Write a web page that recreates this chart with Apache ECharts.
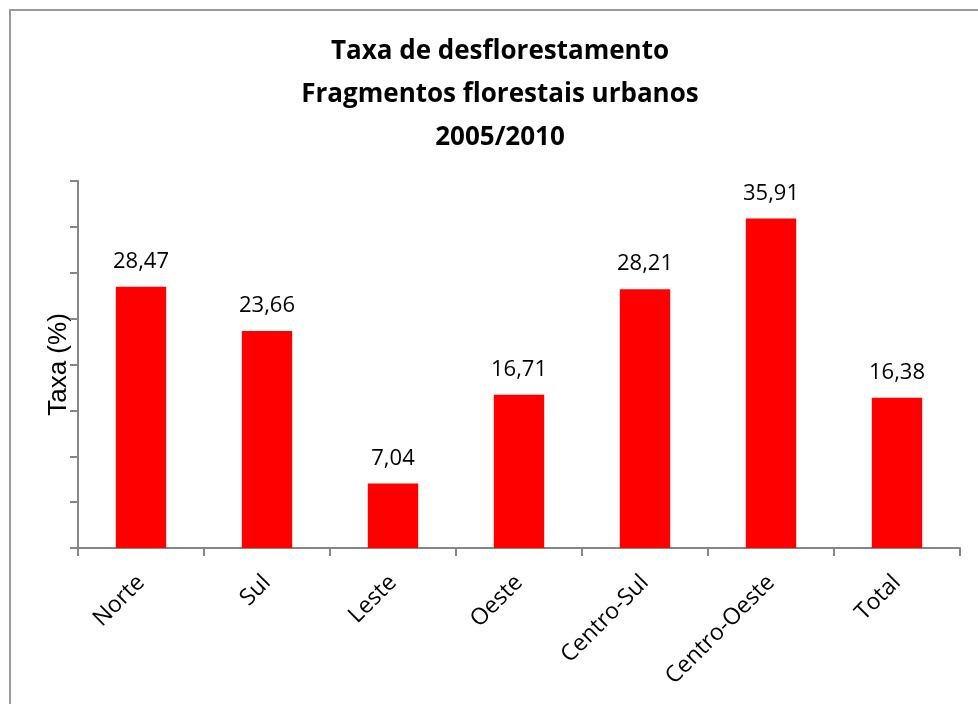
<!DOCTYPE html>
<html><head><meta charset="utf-8">
<script src="https://cdn.jsdelivr.net/npm/echarts@6/dist/echarts.min.js"></script>
<style>html,body{margin:0;padding:0;background:#fff}#c{width:978px;height:704px}</style>
</head><body><div id="c"></div>
<script>
const categories = ['Norte','Sul','Leste','Oeste','Centro-Sul','Centro-Oeste','Total'];
const taxaValues = [28.47, 23.66, 7.04, 16.71, 28.21, 35.91, 16.38];
const titleLines = ['Taxa de desflorestamento','Fragmentos florestais urbanos','2005/2010'];
const yAxisName = 'Taxa (%)';

const chart = echarts.init(document.getElementById('c'), null, {renderer:'canvas'});
chart.setOption({
  animation:false,
  backgroundColor:'#fff',
  graphic:[
    {type:'rect',shape:{x:10,y:10,width:1100,height:1000},style:{fill:'none',stroke:'#9a9a9a',lineWidth:2},z:-1},
    {type:'text',x:500,y:30,style:{text:titleLines.join('\n'),textAlign:'center',textVerticalAlign:'top',
      font:'bold 26px "Open Sans"',lineHeight:43,fill:'#000'}}
  ],
  grid:{left:78,right:18,top:181,bottom:156,containLabel:false},
  xAxis:{
    type:'category', data:categories,
    axisLine:{lineStyle:{color:'#868686',width:2}},
    axisTick:{show:true,alignWithLabel:false,length:8,lineStyle:{color:'#868686',width:2}},
    axisLabel:{rotate:45,fontFamily:'Open Sans',fontSize:23,color:'#000',margin:31,interval:0}
  },
  yAxis:{
    type:'value', min:0, max:40, interval:5,
    name:yAxisName, nameLocation:'middle', nameGap:6, nameRotate:90,
    nameTextStyle:{fontFamily:'Liberation Sans',fontSize:26,color:'#000'},
    axisLine:{show:true,lineStyle:{color:'#868686',width:2}},
    axisTick:{show:true,inside:false,length:8,lineStyle:{color:'#868686',width:2}},
    axisLabel:{show:false},
    splitLine:{show:false}
  },
  series:[{
    type:'bar', data:taxaValues, barWidth:'40%',
    itemStyle:{color:'#ff0000'},
    label:{show:true,position:'top',distance:14,fontFamily:'Open Sans',fontSize:22,color:'#000',
      formatter:p=>p.value.toFixed(2).replace('.',',')}
  }]
});
</script></body></html>
